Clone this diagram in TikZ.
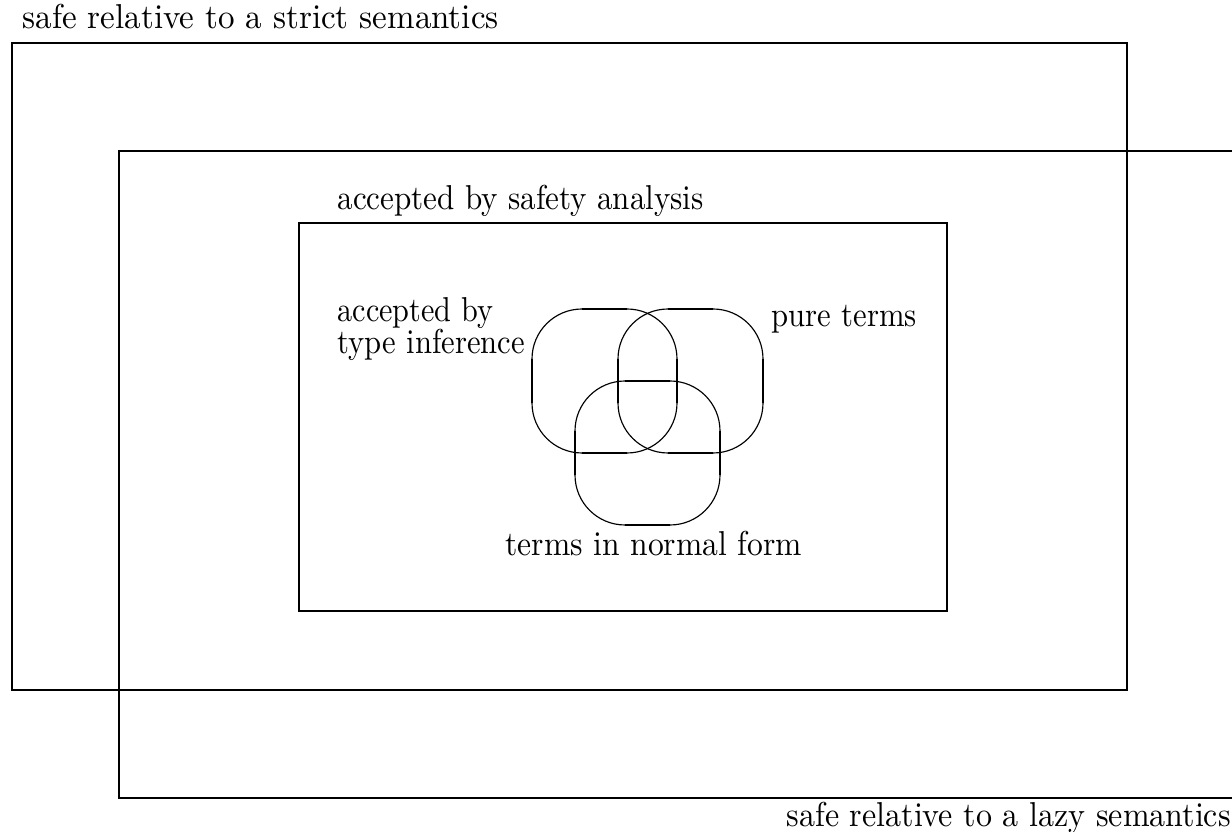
\documentclass[tikz,border=0pt]{standalone}
\usepackage{graphicx}
\newcommand{\lblfont}{\fontsize{10.5}{12}\selectfont}
\newcommand{\fitw}[2]{\resizebox{#1}{\height}{#2}}
\begin{document}
\begin{tikzpicture}[x=0.304pt,y=-0.304pt,
  box/.style={line width=0.6pt},
  thin/.style={line width=0.35pt},
  thick seg/.style={line width=0.85pt},
  lbl/.style={anchor=base west,inner sep=0pt,font=\lblfont}]
\useasboundingbox (0,0) rectangle (1232,832);
% strict box
\draw[box] (12,43) rectangle (1127,690);
% lazy box (open right)
\draw[box] (1232,151) -- (119,151) -- (119,798) -- (1232,798);
% safety box
\draw[box] (299,223) rectangle (947,611);
% labels
\node[lbl] (strict) at (22,29) {\fitw{144.7pt}{safe relative to a strict semantics}};
\node[lbl] (lazy) at (786,827) {\fitw{135.0pt}{safe relative to a lazy semantics}};
\node[lbl] (safety) at (337,210) {\fitw{111.3pt}{accepted by safety analysis}};
\node[lbl] (typeinf1) at (337,322) {\fitw{47.4pt}{accepted by}};
\node[lbl] (typeinf2) at (337,354) {\fitw{56.9pt}{type inference}};
\node[lbl] (pure) at (771,327) {\fitw{44.1pt}{pure terms}};
\node[lbl] (normal) at (505,556) {\fitw{90.0pt}{terms in normal form}};
% venn rounded squares
\foreach \x/\y in {532/309, 618/309, 575/381}{
  \draw[thin,rounded corners=15.2pt] (\x,\y) rectangle ++(145,144);
  \draw[thick seg] (\x+50,\y) -- (\x+95,\y);
  \draw[thick seg] (\x+50,\y+144) -- (\x+95,\y+144);
  \draw[thick seg] (\x,\y+50) -- (\x,\y+94);
  \draw[thick seg] (\x+145,\y+50) -- (\x+145,\y+94);
}
\end{tikzpicture}
\end{document}
